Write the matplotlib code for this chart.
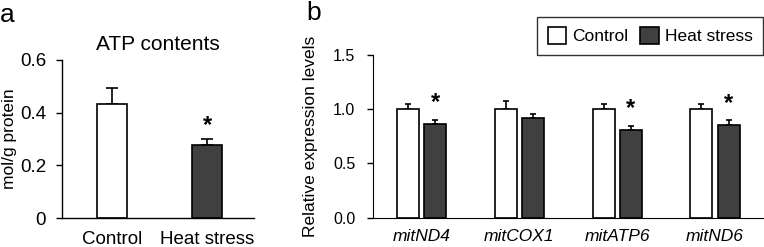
import matplotlib
matplotlib.use("Agg")
import matplotlib.pyplot as plt
from matplotlib.patches import Patch

plt.rcParams['font.family'] = ['Liberation Sans', 'DejaVu Sans']

# Panel a data
atp_groups = ["Control", "Heat stress"]
atp_values = [0.433, 0.277]
atp_err = [0.060, 0.023]
atp_sig = [False, True]

# Panel b data
genes = ["mitND4", "mitCOX1", "mitATP6", "mitND6"]
ctrl_values = [1.0, 1.0, 1.0, 1.0]
ctrl_err = [0.05, 0.075, 0.045, 0.05]
heat_values = [0.86, 0.915, 0.81, 0.855]
heat_err = [0.04, 0.045, 0.04, 0.042]
heat_sig = [True, False, True, True]

DARK = '#404040'
fig = plt.figure(figsize=(7.64, 2.47), dpi=100)

# ---- Panel a ----
ax1 = fig.add_axes([62/764, 1-218/247, (254-62)/764, (218-60)/247])
xa = list(range(len(atp_groups)))
colors_a = ['white', DARK]
ax1.bar(xa, atp_values, width=0.317, color=colors_a, edgecolor='black', linewidth=1.2, zorder=2)
ax1.errorbar(xa, atp_values, yerr=[[0]*len(atp_err), atp_err], fmt='none',
             ecolor='black', elinewidth=1.2, capsize=4.5, capthick=1.2, zorder=1)
for x, v, e, s in zip(xa, atp_values, atp_err, atp_sig):
    if s:
        ax1.text(x, v + e + 0.05, '*', ha='center', va='center', fontsize=17, fontweight='bold')
ax1.set_xlim(-0.534, 1.497)
ax1.set_ylim(0, 0.6)
ax1.set_yticks([0, 0.2, 0.4, 0.6])
ax1.set_yticklabels(['0', '0.2', '0.4', '0.6'])
ax1.set_xticks(xa)
ax1.set_xticklabels(atp_groups)
ax1.tick_params(axis='y', labelsize=13.5, length=4.5, width=1, direction='out', pad=7)
ax1.tick_params(axis='x', labelsize=13.5, length=0, pad=9)
for sp in ['top', 'right']:
    ax1.spines[sp].set_visible(False)
for sp in ['left', 'bottom']:
    ax1.spines[sp].set_linewidth(1)
ax1.set_ylabel('mol/g protein', fontsize=12.5, labelpad=2)
ax1.set_title('ATP contents', fontsize=15, pad=7)

# ---- Panel b ----
ax2 = fig.add_axes([372.7/764, 1-217.7/247, (764-372.7)/764, (217.7-55)/247])
xb = list(range(len(genes)))
off = 0.14
w = 0.225
ax2.bar([x - off for x in xb], ctrl_values, width=w, color='white', edgecolor='black', linewidth=1.2, zorder=2, label='Control')
ax2.bar([x + off for x in xb], heat_values, width=w, color=DARK, edgecolor='black', linewidth=1.2, zorder=2, label='Heat stress')
ax2.errorbar([x - off for x in xb], ctrl_values, yerr=[[0]*len(ctrl_err), ctrl_err], fmt='none',
             ecolor='black', elinewidth=1.2, capsize=2.3, capthick=1.2, zorder=1)
ax2.errorbar([x + off for x in xb], heat_values, yerr=[[0]*len(heat_err), heat_err], fmt='none',
             ecolor='black', elinewidth=1.2, capsize=2.3, capthick=1.2, zorder=1)
for x, v, e, s in zip(xb, heat_values, heat_err, heat_sig):
    if s:
        ax2.text(x + off, v + e + 0.16, '*', ha='center', va='center', fontsize=17, fontweight='bold')
ax2.set_xlim(-0.5, 3.5)
ax2.set_ylim(0, 1.5)
ax2.set_yticks([0, 0.5, 1.0, 1.5])
ax2.set_yticklabels(['0.0', '0.5', '1.0', '1.5'])
ax2.set_xticks(xb)
ax2.set_xticklabels(genes, fontstyle='italic')
ax2.tick_params(axis='y', labelsize=11.5, length=4.5, width=1, direction='out', pad=8)
ax2.tick_params(axis='x', labelsize=12.5, length=0, pad=8)
for sp in ['top', 'right']:
    ax2.spines[sp].set_visible(False)
ax2.set_ylabel('Relative expression levels', fontsize=12.5, labelpad=11)

handles = [Patch(facecolor='white', edgecolor='black', linewidth=1.2, label='Control'),
           Patch(facecolor=DARK, edgecolor='black', linewidth=1.2, label='Heat stress')]
leg = fig.legend(handles=handles, loc='upper right', bbox_to_anchor=(763/764, 1-17/247), ncol=2,
                 fontsize=12.5, frameon=True, fancybox=False, edgecolor='black',
                 handlelength=1.05, handleheight=1.05, handletextpad=0.35, columnspacing=0.7,
                 borderpad=0.6, borderaxespad=0)
leg.get_frame().set_linewidth(1)

fig.text(0/764, 1-15/247, 'a', fontsize=19, va='center', ha='left')
fig.text(306/764, 1-13/247, 'b', fontsize=19, va='center', ha='left')

fig.savefig('out.png', dpi=100)
